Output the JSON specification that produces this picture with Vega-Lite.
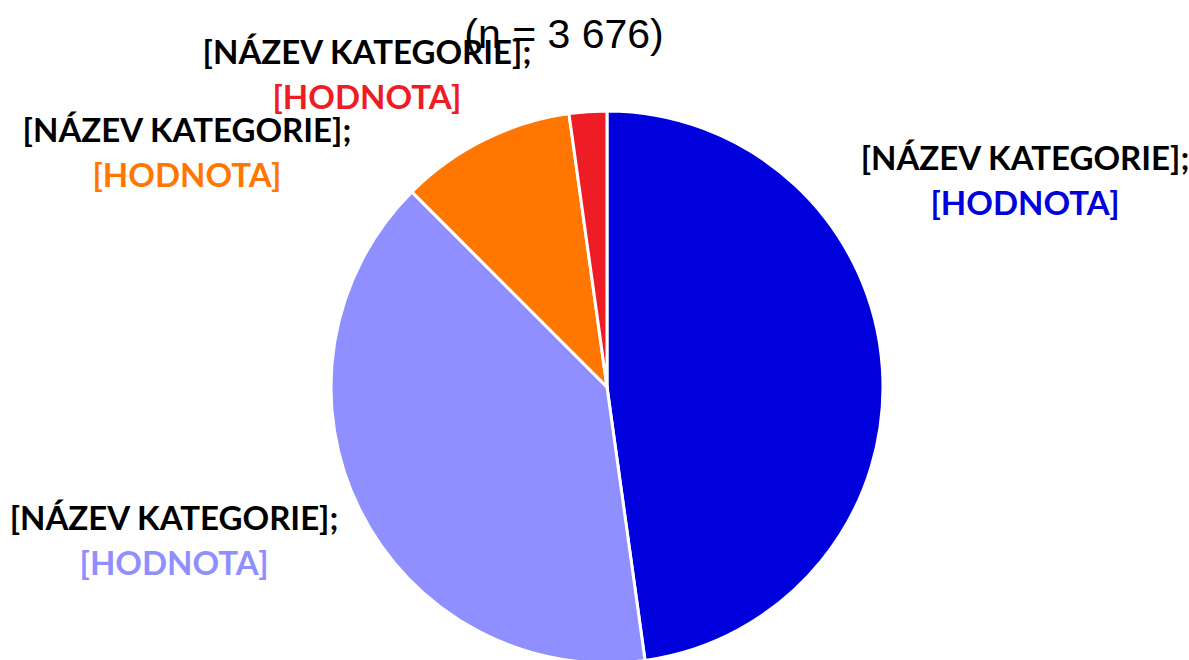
{
  "$schema": "https://vega.github.io/schema/vega-lite/v6.json",
  "autosize": "none",
  "width": 1164,
  "height": 546,
  "padding": {"left": 25, "top": 114, "right": 0, "bottom": 0},
  "background": "white",
  "title": {
    "text": "(n = 3 676)",
    "font": "Liberation Sans",
    "fontSize": 41,
    "fontWeight": "normal",
    "color": "black",
    "anchor": "middle",
    "baseline": "alphabetic",
    "dx": -43,
    "offset": -51.5
  },
  "data": {
    "values": [
      {"id": 1, "label": "[NÁZEV KATEGORIE];", "hodnota": "[HODNOTA]", "value": 47.8},
      {"id": 2, "label": "[NÁZEV KATEGORIE];", "hodnota": "[HODNOTA]", "value": 39.7},
      {"id": 3, "label": "[NÁZEV KATEGORIE];", "hodnota": "[HODNOTA]", "value": 10.3},
      {"id": 4, "label": "[NÁZEV KATEGORIE];", "hodnota": "[HODNOTA]", "value": 2.2}
    ]
  },
  "transform": [
    {"stack": "value", "groupby": [], "sort": [{"field": "id", "order": "ascending"}], "as": ["v0", "v1"]}
  ],
  "layer": [
    {
      "mark": {"type": "arc", "outerRadius": 276, "stroke": "white", "strokeWidth": 3},
      "encoding": {
        "theta": {"field": "v0", "type": "quantitative", "scale": {"domain": [0, 100]}},
        "theta2": {"field": "v1"},
        "color": {"field": "id", "type": "nominal", "scale": {"domain": [1, 2, 3, 4], "range": ["#0000DD", "#8F8FFF", "#FF7700", "#EE1C25"]}, "legend": null}
      }
    },
    {
      "transform": [{"filter": "datum.id == 1"}],
      "layer": [
        {
          "mark": {"type": "text", "radius": 300, "font": "Lato", "fontWeight": "bold", "fontSize": 33, "color": "black", "align": "center", "baseline": "middle", "dx": 418, "dy": 73},
          "encoding": {"theta": {"field": "v0", "type": "quantitative"}, "text": {"field": "label"}}
        },
        {
          "mark": {"type": "text", "radius": 300, "font": "Lato", "fontWeight": "bold", "fontSize": 33, "align": "center", "baseline": "middle", "dx": 418, "dy": 118},
          "encoding": {"theta": {"field": "v0", "type": "quantitative"}, "text": {"field": "hodnota"}, "color": {"field": "id", "type": "nominal", "legend": null}}
        }
      ]
    },
    {
      "transform": [{"filter": "datum.id == 2"}],
      "layer": [
        {
          "mark": {"type": "text", "radius": 300, "font": "Lato", "fontWeight": "bold", "fontSize": 33, "color": "black", "align": "center", "baseline": "middle", "dx": -474.3, "dy": -164.1},
          "encoding": {"theta": {"field": "v0", "type": "quantitative"}, "text": {"field": "label"}}
        },
        {
          "mark": {"type": "text", "radius": 300, "font": "Lato", "fontWeight": "bold", "fontSize": 33, "align": "center", "baseline": "middle", "dx": -474.3, "dy": -119.1},
          "encoding": {"theta": {"field": "v0", "type": "quantitative"}, "text": {"field": "hodnota"}, "color": {"field": "id", "type": "nominal", "legend": null}}
        }
      ]
    },
    {
      "transform": [{"filter": "datum.id == 3"}],
      "layer": [
        {
          "mark": {"type": "text", "radius": 300, "font": "Lato", "fontWeight": "bold", "fontSize": 33, "color": "black", "align": "center", "baseline": "middle", "dx": -207.9, "dy": -42.9},
          "encoding": {"theta": {"field": "v0", "type": "quantitative"}, "text": {"field": "label"}}
        },
        {
          "mark": {"type": "text", "radius": 300, "font": "Lato", "fontWeight": "bold", "fontSize": 33, "align": "center", "baseline": "middle", "dx": -207.9, "dy": 2.1},
          "encoding": {"theta": {"field": "v0", "type": "quantitative"}, "text": {"field": "hodnota"}, "color": {"field": "id", "type": "nominal", "legend": null}}
        }
      ]
    },
    {
      "transform": [{"filter": "datum.id == 4"}],
      "layer": [
        {
          "mark": {"type": "text", "radius": 300, "font": "Lato", "fontWeight": "bold", "fontSize": 33, "color": "black", "align": "center", "baseline": "middle", "dx": -198.7, "dy": -35.9},
          "encoding": {"theta": {"field": "v0", "type": "quantitative"}, "text": {"field": "label"}}
        },
        {
          "mark": {"type": "text", "radius": 300, "font": "Lato", "fontWeight": "bold", "fontSize": 33, "align": "center", "baseline": "middle", "dx": -198.7, "dy": 9.1},
          "encoding": {"theta": {"field": "v0", "type": "quantitative"}, "text": {"field": "hodnota"}, "color": {"field": "id", "type": "nominal", "legend": null}}
        }
      ]
    }
  ]
}
